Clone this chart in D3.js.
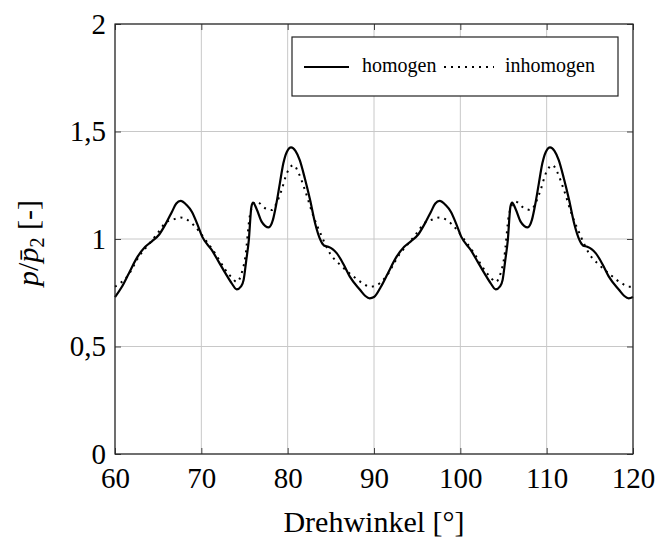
<!DOCTYPE html>
<html>
<head>
<meta charset="utf-8">
<script src="https://cdn.jsdelivr.net/npm/d3@7"></script>
<style>
	body { margin: 0; background: #fff; }
	text { font-family: "Liberation Serif", "DejaVu Serif", serif; fill: #000; }
</style>
</head>
<body>
<svg width="672" height="545"></svg>
<script>
// Drehwinkel in Grad, gelesen aus der Abbildung
var homogenAngle = [60, 60.8, 61.6, 62.5, 63.5, 64.3, 65.1, 66, 66.6, 67.1, 67.6, 68.3, 68.9, 69.5, 70.1, 71.2, 72, 72.8, 73.5, 74.1, 74.6, 74.9, 75.2, 75.5, 75.8, 76, 76.4, 77, 77.8, 78.3, 78.7, 79.1, 79.5, 79.9, 80.4, 80.9, 81.4, 82, 82.6, 83.2, 83.8, 84.2, 84.7, 85.2, 85.7, 86.5, 87.2, 88.4, 89, 89.5,
	90, 90.8, 91.6, 92.5, 93.5, 94.3, 95.1, 96, 96.6, 97.1, 97.6, 98.3, 98.9, 99.5, 100.1, 101.2, 102, 102.8, 103.5, 104.1, 104.6, 104.9, 105.2, 105.5, 105.8, 106, 106.4, 107, 107.8, 108.3, 108.7, 109.1, 109.5, 109.9, 110.4, 110.9, 111.4, 112, 112.6, 113.2, 113.8, 114.2, 114.7, 115.2, 115.7, 116.5, 117.2, 118.4, 119, 119.5, 120];
var homogenValue = [0.73, 0.778, 0.84, 0.91, 0.964, 0.99, 1.02, 1.08, 1.127, 1.165, 1.177, 1.158, 1.127, 1.073, 1.011, 0.949, 0.895, 0.84, 0.795, 0.766, 0.78, 0.81, 0.9, 0.995, 1.15, 1.169, 1.14, 1.08, 1.054, 1.09, 1.166, 1.26, 1.352, 1.405, 1.426, 1.41, 1.367, 1.28, 1.181, 1.07, 0.995, 0.97, 0.964, 0.953, 0.933, 0.88, 0.825, 0.763, 0.735, 0.724,
	0.73, 0.778, 0.84, 0.91, 0.964, 0.99, 1.02, 1.08, 1.127, 1.165, 1.177, 1.158, 1.127, 1.073, 1.011, 0.949, 0.895, 0.84, 0.795, 0.766, 0.78, 0.81, 0.9, 0.995, 1.15, 1.169, 1.14, 1.08, 1.054, 1.09, 1.166, 1.26, 1.352, 1.405, 1.426, 1.41, 1.367, 1.28, 1.181, 1.07, 0.995, 0.97, 0.964, 0.953, 0.933, 0.88, 0.825, 0.763, 0.735, 0.724, 0.73];

var inhomogenAngle = [60, 61.4, 62.9, 64, 65, 65.8, 66.8, 67.6, 68.3, 69.1, 70.5, 71.6, 72.8, 73.6, 74.1, 74.7, 75.1, 75.6, 76, 76.4, 77.4, 78.2, 78.7, 79.3, 79.9, 80.7, 81.2, 82, 83, 83.8, 84.9, 86.1, 87.4, 88.8, 89.5,
	90, 91.4, 92.9, 94, 95, 95.8, 96.8, 97.6, 98.3, 99.1, 100.5, 101.6, 102.8, 103.6, 104.1, 104.7, 105.1, 105.6, 106, 106.4, 107.4, 108.2, 108.7, 109.3, 109.9, 110.7, 111.2, 112, 113, 113.8, 114.9, 116.1, 117.4, 118.8, 119.5, 120];
var inhomogenValue = [0.778, 0.825, 0.926, 0.98, 1.03, 1.073, 1.091, 1.1, 1.091, 1.065, 0.995, 0.933, 0.856, 0.817, 0.8, 0.845, 0.918, 1.104, 1.16, 1.174, 1.143, 1.135, 1.166, 1.228, 1.305, 1.344, 1.313, 1.228, 1.104, 1.026, 0.933, 0.879, 0.833, 0.791, 0.778,
	0.78, 0.825, 0.926, 0.98, 1.03, 1.073, 1.091, 1.1, 1.091, 1.065, 0.995, 0.933, 0.856, 0.817, 0.8, 0.845, 0.918, 1.104, 1.16, 1.174, 1.143, 1.135, 1.166, 1.228, 1.305, 1.344, 1.313, 1.228, 1.104, 1.026, 0.933, 0.879, 0.833, 0.791, 0.778, 0.778];

var xTicks = [60, 70, 80, 90, 100, 110, 120];
var yTicks = [0, 0.5, 1, 1.5, 2];
var seriesNames = ["homogen", "inhomogen"];

var svg = d3.select("svg"),
	plotLeft = 115, plotTop = 24, plotRight = 633, plotBottom = 454;

var x = d3.scaleLinear().domain([60, 120]).range([plotLeft, plotRight]);
var y = d3.scaleLinear().domain([0, 2]).range([plotBottom, plotTop]);

var de = d3.formatLocale({ decimal: ",", thousands: ".", grouping: [3], currency: ["", "€"] });
var fmt = de.format("~g");

// Gitter
svg.append("g").selectAll("line")
	.data(xTicks)
	.enter().append("line")
	.attr("x1", function(d) { return x(d); })
	.attr("x2", function(d) { return x(d); })
	.attr("y1", plotTop).attr("y2", plotBottom)
	.style("stroke", "#c8c8c8").style("stroke-width", 1);
svg.append("g").selectAll("line")
	.data(yTicks)
	.enter().append("line")
	.attr("y1", function(d) { return y(d); })
	.attr("y2", function(d) { return y(d); })
	.attr("x1", plotLeft).attr("x2", plotRight)
	.style("stroke", "#c8c8c8").style("stroke-width", 1);

// Achsen mit Ticks nach innen
svg.append("g")
	.attr("transform", "translate(0," + plotBottom + ")")
	.call(d3.axisBottom(x).tickValues(xTicks).tickSizeInner(-6).tickSizeOuter(0).tickPadding(13).tickFormat(fmt));
svg.append("g")
	.attr("transform", "translate(" + plotLeft + ",0)")
	.call(d3.axisLeft(y).tickValues(yTicks).tickSizeInner(-6).tickSizeOuter(0).tickPadding(9).tickFormat(fmt));
svg.append("g")
	.attr("transform", "translate(0," + plotTop + ")")
	.call(d3.axisTop(x).tickValues(xTicks).tickSizeInner(-6).tickSizeOuter(0).tickFormat(""));
svg.append("g")
	.attr("transform", "translate(" + plotRight + ",0)")
	.call(d3.axisRight(y).tickValues(yTicks).tickSizeInner(-6).tickSizeOuter(0).tickFormat(""));

svg.selectAll(".domain").remove();
svg.selectAll(".tick line").style("stroke", "#444").style("stroke-width", 1);
svg.selectAll(".tick text").style("font-size", "29px").style("font-family", "'Liberation Serif', serif").attr("fill", "#000");

// Kurven
var line = d3.line()
	.x(function(d) { return x(d[0]); })
	.y(function(d) { return y(d[1]); })
	.curve(d3.curveMonotoneX);

var homogen = d3.zip(homogenAngle, homogenValue);
var inhomogen = d3.zip(inhomogenAngle, inhomogenValue);

svg.append("path")
	.datum(inhomogen)
	.attr("d", line)
	.style("fill", "none")
	.style("stroke", "#000")
	.style("stroke-width", 2)
	.style("stroke-dasharray", "2,5");

svg.append("path")
	.datum(homogen)
	.attr("d", line)
	.style("fill", "none")
	.style("stroke", "#000")
	.style("stroke-width", 2.2);

// Rahmen
svg.append("rect")
	.attr("x", plotLeft).attr("y", plotTop)
	.attr("width", plotRight - plotLeft).attr("height", plotBottom - plotTop)
	.style("fill", "none").style("stroke", "#222").style("stroke-width", 1.2);

// Legende
var legend = svg.append("g");
legend.append("rect")
	.attr("x", 292).attr("y", 37).attr("width", 326).attr("height", 59)
	.style("fill", "#fff").style("stroke", "#222").style("stroke-width", 1.2);
legend.append("line")
	.attr("x1", 304).attr("x2", 349).attr("y1", 67).attr("y2", 67)
	.style("stroke", "#000").style("stroke-width", 2.2);
legend.append("text")
	.attr("x", 362).attr("y", 72)
	.style("font-size", "20px")
	.text(seriesNames[0]);
legend.append("line")
	.attr("x1", 444).attr("x2", 494).attr("y1", 67).attr("y2", 67)
	.style("stroke", "#000").style("stroke-width", 2)
	.style("stroke-dasharray", "2,5");
legend.append("text")
	.attr("x", 505).attr("y", 72)
	.style("font-size", "20px")
	.text(seriesNames[1]);

// Achsentitel
svg.append("text")
	.attr("x", (plotLeft + plotRight) / 2).attr("y", 532)
	.attr("text-anchor", "middle")
	.style("font-size", "30px")
	.text("Drehwinkel [°]");

var ylab = svg.append("text")
	.attr("transform", "translate(38,243) rotate(-90)")
	.attr("text-anchor", "middle")
	.style("font-size", "30px");
ylab.append("tspan").style("font-style", "italic").text("p");
ylab.append("tspan").text("/");
ylab.append("tspan").style("font-style", "italic").text("p\u0304");
ylab.append("tspan").attr("dy", 6).style("font-size", "20px").text("2");
ylab.append("tspan").attr("dy", -6).text(" [-]");
</script>
</body>
</html>
